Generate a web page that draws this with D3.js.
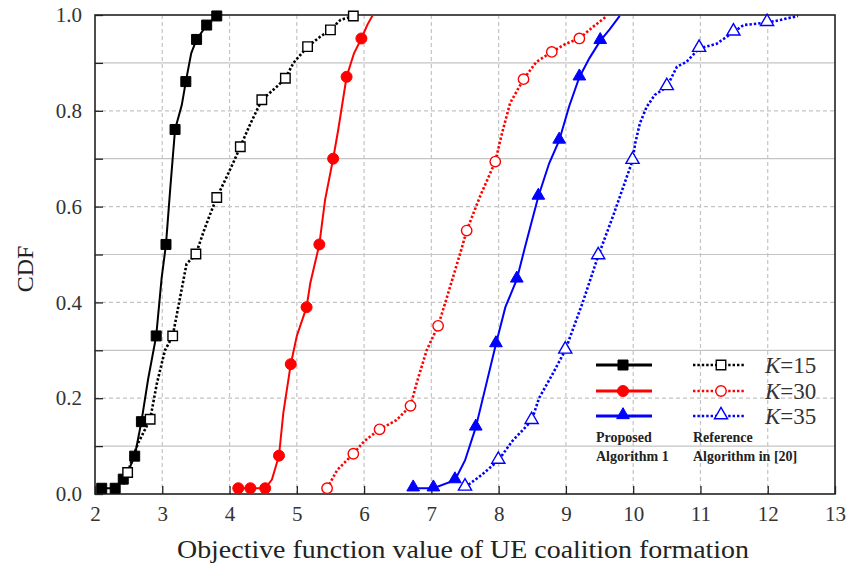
<!DOCTYPE html>
<html><head><meta charset="utf-8">
<script src="https://cdn.jsdelivr.net/npm/d3@7"></script>
<style>body{margin:0;background:#fff}svg{display:block}</style>
</head><body>
<svg id="c" width="847" height="564"></svg>
<script>
// ---- data ----
const xTicks = [2,3,4,5,6,7,8,9,10,11,12,13];
const yTicks = [0,0.2,0.4,0.6,0.8,1.0];
const yMinor = [0.1,0.3,0.5,0.7,0.9];

const p15Line = [[2.10,0.012],[2.30,0.012],[2.42,0.031],[2.50,0.05],[2.59,0.079],[2.69,0.151],[2.79,0.24],[2.91,0.33],[2.99,0.45],[3.055,0.521],[3.12,0.64],[3.19,0.761],[3.29,0.812],[3.35,0.861],[3.43,0.92],[3.51,0.949],[3.66,0.979],[3.81,0.998]];
const p15Mark = [[2.10,0.012],[2.30,0.012],[2.42,0.031],[2.59,0.079],[2.69,0.151],[2.91,0.33],[3.055,0.521],[3.19,0.761],[3.35,0.861],[3.51,0.949],[3.66,0.979],[3.81,0.998]];

const r15Line = [[2.42,0.02],[2.485,0.045],[2.64,0.106],[2.82,0.156],[2.92,0.231],[3.04,0.30],[3.155,0.33],[3.21,0.37],[3.36,0.48],[3.50,0.501],[3.62,0.55],[3.70,0.58],[3.81,0.619],[3.95,0.66],[4.05,0.69],[4.16,0.725],[4.30,0.77],[4.48,0.823],[4.70,0.85],[4.83,0.868],[4.95,0.90],[5.16,0.934],[5.35,0.955],[5.50,0.969],[5.65,0.99],[5.84,0.998]];
const r15Mark = [[2.485,0.045],[2.82,0.156],[3.155,0.33],[3.50,0.501],[3.81,0.619],[4.16,0.725],[4.48,0.823],[4.83,0.868],[5.16,0.934],[5.50,0.969],[5.84,0.998]];

const p30Line = [[4.13,0.012],[4.31,0.012],[4.53,0.012],[4.63,0.03],[4.735,0.08],[4.80,0.17],[4.91,0.271],[5.00,0.33],[5.145,0.39],[5.20,0.44],[5.335,0.521],[5.42,0.614],[5.54,0.70],[5.615,0.76],[5.74,0.871],[5.85,0.92],[5.96,0.951],[6.05,0.98],[6.13,1.0]];
const p30Mark = [[4.13,0.012],[4.31,0.012],[4.53,0.012],[4.735,0.08],[4.91,0.271],[5.145,0.39],[5.335,0.521],[5.54,0.70],[5.74,0.871],[5.96,0.951]];

const r30Line = [[5.45,0.012],[5.60,0.05],[5.84,0.084],[6.00,0.11],[6.23,0.135],[6.48,0.154],[6.69,0.184],[6.78,0.231],[6.93,0.30],[7.10,0.351],[7.23,0.41],[7.43,0.503],[7.525,0.55],[7.72,0.62],[7.95,0.694],[8.05,0.753],[8.17,0.816],[8.37,0.866],[8.56,0.902],[8.79,0.923],[9.00,0.94],[9.20,0.951],[9.40,0.975],[9.60,0.997]];
const r30Mark = [[5.45,0.012],[5.84,0.084],[6.23,0.135],[6.69,0.184],[7.10,0.351],[7.525,0.55],[7.95,0.694],[8.37,0.866],[8.79,0.923],[9.20,0.951]];

const p35Line = [[6.73,0.012],[7.03,0.012],[7.35,0.029],[7.50,0.07],[7.66,0.139],[7.80,0.22],[7.96,0.313],[8.10,0.39],[8.27,0.448],[8.40,0.52],[8.59,0.621],[8.75,0.69],[8.90,0.738],[9.05,0.81],[9.20,0.870],[9.35,0.91],[9.51,0.946],[9.65,0.97],[9.80,0.998]];
const p35Mark = [[6.73,0.012],[7.03,0.012],[7.35,0.029],[7.66,0.139],[7.96,0.313],[8.27,0.448],[8.59,0.621],[8.90,0.738],[9.20,0.870],[9.51,0.946]];

const r35Line = [[7.50,0.014],[7.75,0.04],[7.995,0.07],[8.20,0.11],[8.49,0.153],[8.60,0.20],[8.80,0.25],[8.99,0.30],[9.25,0.40],[9.48,0.497],[9.70,0.58],[9.85,0.64],[9.99,0.696],[10.03,0.732],[10.10,0.774],[10.20,0.808],[10.32,0.833],[10.50,0.850],[10.65,0.892],[10.79,0.902],[10.98,0.930],[11.24,0.94],[11.49,0.964],[11.64,0.979],[11.99,0.984],[12.20,0.99],[12.45,0.998]];
const r35Mark = [[7.50,0.014],[7.995,0.07],[8.49,0.153],[8.99,0.30],[9.48,0.497],[9.99,0.696],[10.50,0.850],[10.98,0.930],[11.49,0.964],[11.99,0.984]];

const legendK = ["15","30","35"];
const xTitle = "Objective function value of UE coalition formation";
const yTitle = "CDF";

// ---- drawing ----
const svg = d3.select("#c");
const L=95, R=835, T=15, B=494;
const x = d3.scaleLinear().domain([2,13]).range([L,R]);
const y = d3.scaleLinear().domain([0,1]).range([B,T]);
const FONT = "'Liberation Serif','Times New Roman',serif";

// grid
const g = svg.append("g");
g.selectAll(".vg").data(xTicks.slice(1,-1)).join("line")
  .attr("x1",d=>x(d)).attr("x2",d=>x(d)).attr("y1",T).attr("y2",B)
  .attr("stroke","#c4c4c4").attr("stroke-width",1.2).attr("stroke-dasharray","4,3");
g.selectAll(".hg").data(yTicks.slice(1,-1)).join("line")
  .attr("x1",L).attr("x2",R).attr("y1",d=>y(d)).attr("y2",d=>y(d))
  .attr("stroke","#c4c4c4").attr("stroke-width",1.2).attr("stroke-dasharray","4,3");
g.selectAll(".hm").data(yMinor).join("line")
  .attr("x1",L).attr("x2",R).attr("y1",d=>y(d)).attr("y2",d=>y(d))
  .attr("stroke","#c4c4c4").attr("stroke-width",1.2);

// axes
const xAxis = d3.axisBottom(x).tickValues(xTicks).tickSize(-8).tickPadding(12).tickFormat(d3.format("d"));
const ax = svg.append("g").attr("transform",`translate(0,${B})`).call(xAxis);
const yAxis = d3.axisLeft(y).tickValues(yTicks.concat(yMinor)).tickSize(-8).tickPadding(13)
  .tickFormat(d=> yTicks.includes(d) ? d3.format(".1f")(d) : "");
const ay = svg.append("g").attr("transform",`translate(${L},0)`).call(yAxis);
[ax,ay].forEach(a=>{
  a.select(".domain").remove();
  a.selectAll(".tick line").attr("stroke","#222").attr("stroke-width",1.3);
  a.selectAll("text").attr("font-family",FONT).attr("font-size",21).attr("fill","#333");
});
svg.append("rect").attr("x",L).attr("y",T).attr("width",R-L).attr("height",B-T)
  .attr("fill","none").attr("stroke","#222").attr("stroke-width",1.6);

// titles
svg.append("text").attr("x",(L+R)/2-2).attr("y",558).attr("text-anchor","middle")
  .attr("font-family",FONT).attr("font-size",26).attr("fill","#222")
  .attr("textLength",572).attr("lengthAdjust","spacingAndGlyphs").text(xTitle);
svg.append("text").attr("transform",`translate(33,269) rotate(-90)`).attr("text-anchor","middle")
  .attr("font-family",FONT).attr("font-size",24).attr("fill","#222").text(yTitle);

const line = d3.line().x(d=>x(d[0])).y(d=>y(d[1]));
const series = [
  {l:p15Line,m:p15Mark,c:"#000",dash:null,shape:"sq",fill:true},
  {l:r15Line,m:r15Mark,c:"#000",dash:"2.4,2",shape:"sq",fill:false},
  {l:p30Line,m:p30Mark,c:"#ff0000",dash:null,shape:"ci",fill:true},
  {l:r30Line,m:r30Mark,c:"#ff0000",dash:"2.4,2",shape:"ci",fill:false},
  {l:p35Line,m:p35Mark,c:"#0000ff",dash:null,shape:"tr",fill:true},
  {l:r35Line,m:r35Mark,c:"#0000ff",dash:"2.4,2",shape:"tr",fill:false},
];
const sym = {sq:d3.symbol(d3.symbolSquare,100), ci:d3.symbol(d3.symbolCircle,95), tr:d3.symbol(d3.symbolTriangle,70)};
const symOpen = {sq:d3.symbol(d3.symbolSquare,90), ci:d3.symbol(d3.symbolCircle,85), tr:d3.symbol(d3.symbolTriangle,75)};

function drawMarker(sel,s){
  sel.attr("d", s.fill ? sym[s.shape]() : symOpen[s.shape]())
    .attr("fill", s.fill ? s.c : "#fff")
    .attr("stroke", s.c).attr("stroke-width", s.fill?1:1.4);
}

series.forEach(s=>{
  svg.append("path").datum(s.l).attr("d",line).attr("fill","none")
    .attr("stroke",s.c).attr("stroke-width",s.dash?2.6:2)
    .attr("stroke-dasharray",s.dash);
  svg.append("g").selectAll("path").data(s.m).join("path")
    .attr("transform",d=>`translate(${x(d[0])},${y(d[1]) + (s.shape==="tr"?-1:0)})`)
    .call(sel=>drawMarker(sel,s));
});

// legend
const rowsY=[365,391,416];
const leg = svg.append("g");
[0,1,2].forEach(i=>{
  const sp=series[2*i], sr=series[2*i+1];
  leg.append("line").attr("x1",596).attr("x2",652).attr("y1",rowsY[i]).attr("y2",rowsY[i])
    .attr("stroke",sp.c).attr("stroke-width",3);
  leg.append("path").attr("transform",`translate(623,${rowsY[i]+(sp.shape==="tr"?-1:0)})`).call(sel=>drawMarker(sel,sp));
  leg.append("line").attr("x1",693).attr("x2",744).attr("y1",rowsY[i]).attr("y2",rowsY[i])
    .attr("stroke",sr.c).attr("stroke-width",2.6).attr("stroke-dasharray","2.4,2");
  leg.append("path").attr("transform",`translate(721,${rowsY[i]+(sr.shape==="tr"?-1:0)})`).call(sel=>drawMarker(sel,sr));
  const t = leg.append("text").attr("x",765).attr("y",rowsY[i]+8)
    .attr("font-family",FONT).attr("font-size",23).attr("fill","#333");
  t.append("tspan").attr("font-style","italic").text("K");
  t.append("tspan").text("="+legendK[i]);
});
[["Proposed",596,442],["Algorithm 1",596,461],["Reference",693,442],["Algorithm in [20]",693,461]].forEach(d=>{
  leg.append("text").attr("x",d[1]).attr("y",d[2]).attr("font-family",FONT)
    .attr("font-size",14).attr("font-weight","bold").attr("fill","#222").text(d[0]);
});
</script>
</body></html>
